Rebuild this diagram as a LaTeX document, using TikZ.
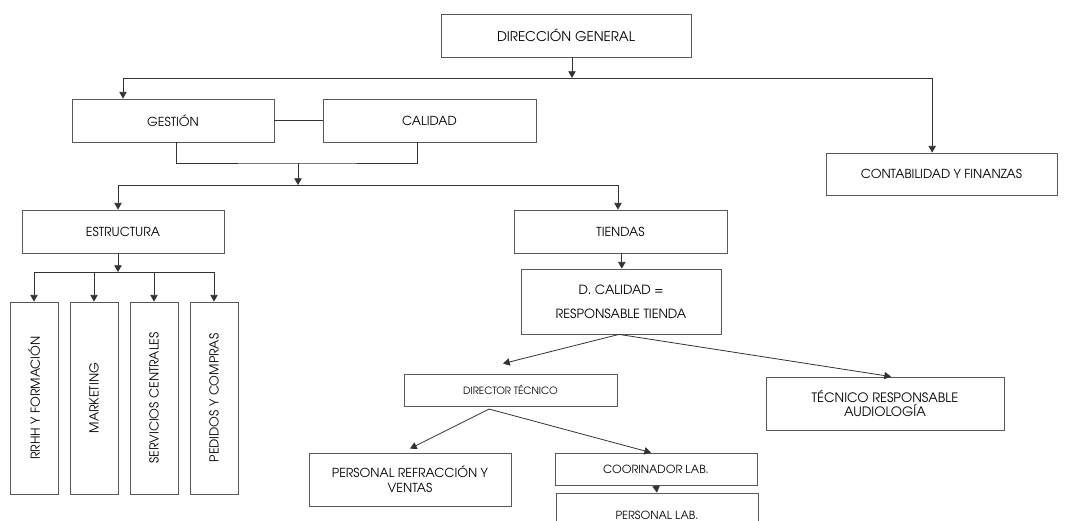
\documentclass[tikz,border=0pt]{standalone}
\usepackage{fontspec}
\setmainfont{texgyreadventor-regular.otf}
\usetikzlibrary{arrows.meta}
\tikzset{
  caja/.style={draw=black!65, line width=0.6pt, inner sep=1pt, align=center, font=\fontsize{9.3}{11}\selectfont},
  flecha/.style={draw=black!80, line width=0.6pt, -{Triangle[width=5.5pt,length=5pt]}},
  linea/.style={draw=black!80, line width=0.6pt}
}
\begin{document}
\begin{tikzpicture}[x=0.75pt,y=-0.75pt]
\useasboundingbox (0,0) rectangle (1068,521);
\node[caja,minimum width=187.5pt,minimum height=32.25pt,font=\fontsize{10}{12}\selectfont] (dg) at (566,35.5) {DIRECCIÓN GENERAL};
\node[caja,minimum width=151.5pt,minimum height=32.25pt] (gest) at (173,120.5) {GESTIÓN};
\node[caja,minimum width=159.75pt,minimum height=32.25pt] (cal) at (429.5,120.5) {CALIDAD};
\node[caja,minimum width=173.25pt,minimum height=31.5pt] (cont) at (941.5,174) {CONTABILIDAD Y FINANZAS};
\node[caja,minimum width=151.5pt,minimum height=32.25pt] (estr) at (123,231.5) {ESTRUCTURA};
\node[caja,minimum width=159.75pt,minimum height=32.25pt] (tien) at (620.5,231.5) {TIENDAS};
\node[caja,minimum width=150pt,minimum height=48.75pt,font=\fontsize{9.5}{18}\selectfont] (dcal) at (621,301.5) {D. CALIDAD =\\RESPONSABLE TIENDA};
\node[caja,rotate=90,minimum width=144pt,minimum height=36pt] (rrhh) at (34,398) {RRHH Y FORMACIÓN};
\node[caja,rotate=90,minimum width=144pt,minimum height=36pt] (mark) at (94,398) {MARKETING};
\node[caja,rotate=90,minimum width=144pt,minimum height=36pt] (serv) at (154,398) {SERVICIOS CENTRALES};
\node[caja,rotate=90,minimum width=144pt,minimum height=36pt] (ped) at (214,398) {PEDIDOS Y COMPRAS};
\node[caja,minimum width=159.75pt,minimum height=24pt,font=\fontsize{7.5}{9}\selectfont] (dirt) at (510.5,390) {DIRECTOR TÉCNICO};
\node[caja,minimum width=178.5pt,minimum height=39.75pt,font=\fontsize{9.7}{11}\selectfont] (tecr) at (885,403.5) {TÉCNICO RESPONSABLE\\AUDIOLOGÍA};
\node[caja,minimum width=151.5pt,minimum height=39.75pt,font=\fontsize{9.3}{11}\selectfont] (pref) at (410,479.5) {PERSONAL REFRACCIÓN Y\\VENTAS};
\node[caja,minimum width=151.5pt,minimum height=24pt,font=\fontsize{8.4}{9}\selectfont] (coor) at (656,469) {COORINADOR LAB.};
\node[caja,minimum width=151.5pt,minimum height=33pt,font=\fontsize{8.4}{9}\selectfont] (plab) at (657,515) {PERSONAL LAB.};
% junctions
\coordinate (j1) at (572,78);
\coordinate (j2) at (298,163);
\coordinate (j3) at (298,185);
\coordinate (j4) at (118,272);
% connectors
\draw[flecha] ([xshift=4.5pt]dg.south) -- (j1);
\draw[flecha] (j1) -| ([xshift=-37.5pt]gest.north);
\draw[flecha] (j1) -| ([xshift=-7pt]cont.north);
\draw[linea] (gest.east) -- (cal.west);
\draw[linea] ([xshift=2.25pt]gest.south) |- (j2) -| ([xshift=-9.4pt]cal.south);
\draw[flecha] (j2) -- (j3);
\draw[flecha] (j3) -| ([xshift=-3.75pt]estr.north);
\draw[flecha] (j3) -| ([xshift=-1.9pt]tien.north);
\draw[flecha] ([xshift=-3.75pt]estr.south) -- (j4);
\draw[flecha] (j4) -| (rrhh.east);
\draw[flecha] (j4) -| (mark.east);
\draw[flecha] (j4) -| (serv.east);
\draw[flecha] (j4) -| (ped.east);
\draw[flecha] ([xshift=1pt]tien.south) -- ([xshift=1pt]tien.south |- dcal.north);
\draw[flecha] ([xshift=-1.5pt]dcal.south) -- ([xshift=-5.6pt,yshift=7.5pt]dirt.north);
\draw[flecha] ([xshift=-1.5pt]dcal.south) -- ([xshift=4.5pt]tecr.north);
\draw[flecha] ([xshift=-16pt,yshift=-2pt]dirt.south) -- ([yshift=3pt]pref.north);
\draw[flecha] ([xshift=-16pt,yshift=-2pt]dirt.south) -- ([xshift=-3.75pt]coor.north);
\draw[flecha] (coor.south) -- (plab.north);
\end{tikzpicture}
\end{document}
